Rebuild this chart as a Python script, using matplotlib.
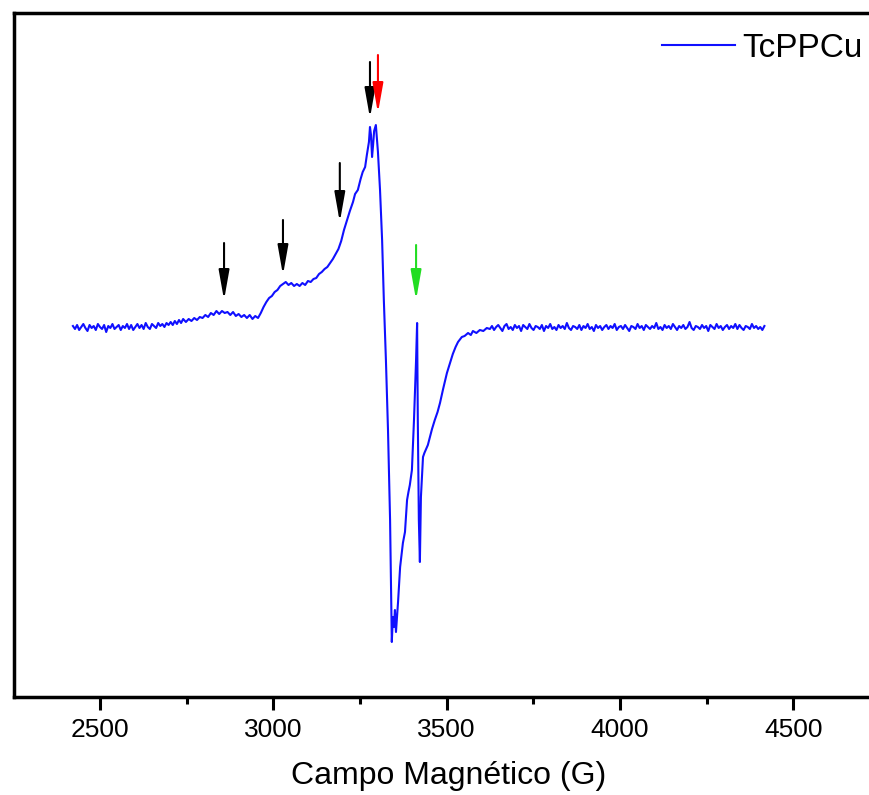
import matplotlib
matplotlib.use('Agg')
import matplotlib.pyplot as plt
from matplotlib.ticker import MultipleLocator

plt.rcParams['font.family'] = ['Liberation Sans', 'DejaVu Sans']

# EPR spectrum, values (field in G, intensity in a.u.)
# flat start, noisy baseline
field_head = [2422, 2428, 2434, 2440, 2446, 2452, 2458, 2464, 2470, 2476,
              2482, 2488, 2494, 2500, 2506, 2512, 2518, 2524, 2530, 2536,
              2542, 2548, 2554, 2560, 2566, 2572, 2578, 2584, 2590, 2596,
              2602, 2608, 2614, 2620, 2626, 2632, 2638, 2644, 2650, 2656,
              2662, 2668, 2674, 2680, 2686, 2692, 2698, 2704, 2710, 2716,
              2722, 2728, 2734, 2740]
int_head = [1, -2, 2, -3, 0, 3, -1, -4, 2, -1,
            1, -3, 3, 0, -2, 2, -5, 1, -1, 3,
            -2, 0, 2, -3, 1, -1, 3, -2, 2, -3,
            0, 3, -1, 2, -2, 4, 0, -2, 3, 1,
            -1, 4, 1, 3, 0, 4, 2, 5, 2, 6,
            3, 7, 4, 8]

# shoulders, main line and the sharp feature
field_mid = [2748, 2756, 2764, 2772, 2780, 2788, 2796, 2804, 2812, 2820,
             2828, 2836, 2844, 2852, 2860, 2868, 2876, 2884, 2892, 2900,
             2908, 2916, 2924, 2932, 2940, 2948, 2956,
             2964, 2972, 2980, 2988, 2996, 3004, 3012, 3020, 3028, 3036,
             3044, 3052, 3060, 3068, 3076, 3084, 3092, 3100, 3108, 3116,
             3124, 3132, 3140, 3148, 3156, 3164, 3172, 3180, 3188, 3196,
             3204, 3212, 3221, 3230, 3236, 3244, 3252, 3258, 3265, 3270,
             3276, 3279, 3282, 3285, 3288, 3291, 3296, 3302, 3308,
             3314, 3319, 3325, 3331, 3337, 3340, 3342, 3345, 3348, 3351,
             3354, 3357, 3360, 3366, 3370, 3374, 3380, 3386, 3390, 3394,
             3400, 3406, 3412, 3415, 3417, 3420, 3423, 3426, 3432, 3436,
             3441, 3446, 3452, 3458, 3466, 3474, 3481, 3490, 3501, 3510,
             3518, 3526, 3533, 3544, 3552, 3562, 3570, 3576, 3586, 3596,
             3606, 3616]
int_mid = [5, 8, 6, 9, 7, 10, 9, 12, 10, 14,
           12, 16, 13, 16, 14, 15, 12, 15, 11, 13,
           10, 12, 9, 12, 8, 11, 9,
           14, 20, 25, 29, 31, 35, 37, 41, 43, 45,
           42, 44, 41, 43, 41, 44, 42, 46, 45, 48,
           49, 53, 55, 58, 60, 64, 68, 73, 78, 86,
           97, 106, 116, 125, 133, 137, 148, 155, 160, 172,
           185, 200, 192, 170, 182, 196, 202, 175, 137,
           87, 27, -33, -103, -193, -263, -315, -290, -300, -283,
           -305, -290, -275, -240, -228, -216, -205, -173, -165, -158,
           -143, -93, -33, 4, -93, -193, -235, -170, -130, -126,
           -122, -118, -110, -102, -93, -85, -76, -62, -46, -36,
           -27, -20, -15, -10, -9, -6, -8, -4, -6, -3,
           -4, -1]

# flat end, noisy baseline
field_tail = [3625, 3631, 3637, 3643, 3649, 3655, 3661, 3667, 3673, 3679,
              3685, 3691, 3697, 3703, 3709, 3715, 3721, 3727, 3733, 3739,
              3745, 3751, 3757, 3763, 3769, 3775, 3781, 3787, 3793, 3799,
              3805, 3811, 3817, 3823, 3829, 3835, 3841, 3847, 3853, 3859,
              3865, 3871, 3877, 3883, 3889, 3895, 3901, 3907, 3913, 3919,
              3925, 3931, 3937, 3943, 3949, 3955, 3961, 3967, 3973, 3979,
              3985, 3991, 3997, 4003, 4009, 4015, 4021, 4027, 4033, 4039,
              4045, 4051, 4057, 4063, 4069, 4075, 4081, 4087, 4093, 4099,
              4105, 4111, 4117, 4123, 4129, 4135, 4141, 4147, 4153, 4159,
              4165, 4171, 4177, 4183, 4189, 4195, 4201, 4207, 4213, 4219,
              4225, 4231, 4237, 4243, 4249, 4255, 4261, 4267, 4273, 4279,
              4285, 4291, 4297, 4303, 4309, 4315, 4321, 4327, 4333, 4339,
              4345, 4351, 4357, 4363, 4369, 4375, 4381, 4387, 4393, 4399,
              4405, 4411, 4417]
int_tail = [-2, 1, -3, 0, 2, -1, -4, 1, 3, -2,
            0, -3, 2, -1, 1, -4, 2, 0, -2, 3,
            -1, -3, 1, 0, -2, 2, -4, 1, -1, 3,
            -2, 0, -3, 2, -1, 1, -2, 4, -1, -3,
            1, 0, -2, 2, -3, 1, -1, 3, -2, 0,
            -4, 2, -1, 1, -3, 0, 2, -2, 1, -1,
            3, -3, 0, 1, -2, 2, -1, -4, 1, 0,
            -2, 3, -1, 1, -3, 2, 0, -2, 1, -1,
            4, -2, 0, -3, 2, -1, 1, -2, 3, 0,
            -3, 1, -1, 2, -2, 0, 5, -1, -3, 1,
            0, -2, 2, -1, 1, -4, 2, 0, -2, 3,
            -1, 1, -3, 0, 2, -2, 1, -1, 3, -2,
            2, -1, -3, 1, 0, -2, 3, -1, 1, -2,
            0, -3, 1]

field = field_head + field_mid + field_tail
intensity = int_head + int_mid + int_tail

# arrows: x position, tail height, head height, colour
arrow_x = [2858, 3028, 3192, 3279, 3302, 3412]
arrow_tail = [84, 107, 164, 265, 272, 82]
arrow_head = [27, 52, 105, 209, 214, 27]
arrow_color = ['black', 'black', 'black', 'black', 'red', '#22dd22']

fig = plt.figure(figsize=(8.7, 7.95), dpi=100)
ax = fig.add_axes([14 / 870, 98 / 795, 870 / 870, 684 / 795])

line, = ax.plot(field, intensity, color='#1010ff', lw=1.5, label='TcPPCu')

for x, t, h, c in zip(arrow_x, arrow_tail, arrow_head, arrow_color):
    ax.annotate('', xy=(x, h), xytext=(x, t),
                arrowprops=dict(arrowstyle='-|>,head_length=0.9,head_width=0.16',
                                color=c, lw=1.5, mutation_scale=20,
                                shrinkA=0, shrinkB=0))

ax.set_xlim(2252, 4762)
ax.set_ylim(-370, 314)
ax.xaxis.set_major_locator(MultipleLocator(500))
ax.xaxis.set_minor_locator(MultipleLocator(250))
ax.tick_params(axis='x', which='major', direction='out', length=9, width=2.2,
               labelsize=19, pad=6)
ax.tick_params(axis='x', which='minor', direction='out', length=5, width=2.2)
ax.tick_params(axis='y', left=False, labelleft=False)
for s in ax.spines.values():
    s.set_linewidth(2.5)
ax.set_xlabel('Campo Magnético (G)', fontsize=23, labelpad=14)

ax.legend(handles=[line], loc='upper left', frameon=False, fontsize=24,
          handlelength=2.2, handletextpad=0.2, borderpad=0, borderaxespad=0,
          bbox_to_anchor=(662 / 870, 1 - 33 / 795), bbox_transform=fig.transFigure)

fig.savefig('out.png', dpi=100)
